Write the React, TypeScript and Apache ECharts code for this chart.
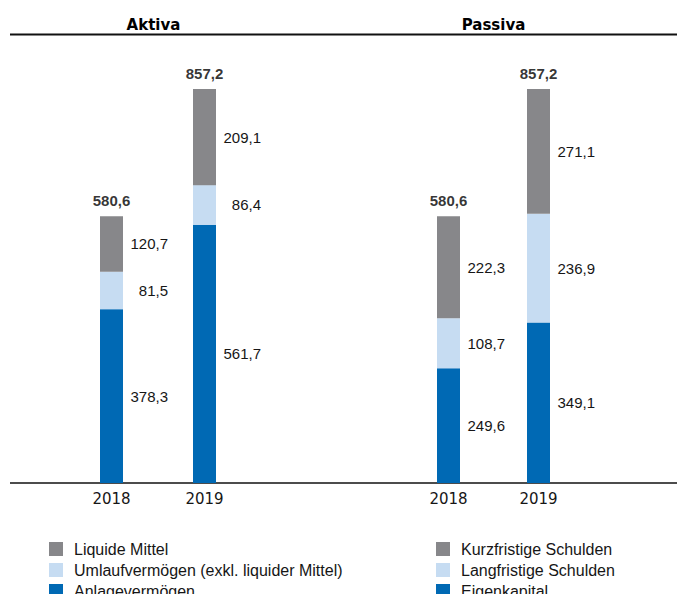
import React, { useEffect, useRef } from "react";
import * as echarts from "echarts";

const years = ["2018", "2019"];

const aktivaNames = ["Anlagevermögen", "Umlaufvermögen (exkl. liquider Mittel)", "Liquide Mittel"];
const anlagevermoegen = [378.3, 561.7];
const umlaufvermoegen = [81.5, 86.4];
const liquideMittel = [120.7, 209.1];
const aktivaTotals = [580.6, 857.2];

const passivaNames = ["Eigenkapital", "Langfristige Schulden", "Kurzfristige Schulden"];
const eigenkapital = [249.6, 349.1];
const langfristigeSchulden = [108.7, 236.9];
const kurzfristigeSchulden = [222.3, 271.1];
const passivaTotals = [580.6, 857.2];

const colors = ["#0069b4", "#c6dcf2", "#87878a"];
const fmt = (v: number) => v.toFixed(1).replace(".", ",");
const TXT = "#161616";

function App() {
  const ref = useRef<HTMLDivElement>(null);
  useEffect(() => {
    const chart = echarts.init(ref.current!, null, { renderer: "svg" });
    const segLabel = {
      show: true,
      position: ["100%", "50%"],
      offset: [45, 0],
      align: "right",
      verticalAlign: "middle",
      fontSize: 15,
      fontFamily: "Liberation Sans, Arial, sans-serif",
      color: TXT,
      formatter: (p: any) => fmt(p.value),
    };
    const totalLabel = {
      show: true,
      position: "top",
      distance: 8,
      fontSize: 15,
      fontWeight: "bold",
      fontFamily: "Liberation Sans, Arial, sans-serif",
      color: "#000",
      formatter: (p: any) => fmt(p.value[1] ?? p.value),
    };
    const mkBars = (names: string[], arrs: number[][], idx: number, stack: string) =>
      names.map((n, i) => ({
        name: n,
        type: "bar",
        stack,
        xAxisIndex: idx,
        yAxisIndex: idx,
        barWidth: 23,
        itemStyle: { color: colors[i] },
        label: segLabel,
        silent: true,
        data: arrs[i],
      }));
    const mkTotals = (totals: number[], idx: number) => ({
      type: "scatter",
      xAxisIndex: idx,
      yAxisIndex: idx,
      symbol: "circle",
      symbolSize: 1,
      itemStyle: { color: "rgba(0,0,0,0)" },
      label: totalLabel,
      silent: true,
      data: totals.map((t, i) => [years[i], t]),
    });
    const xAxisCommon = {
      type: "category",
      data: years,
      axisLine: { show: false },
      axisTick: { show: false },
      axisLabel: {
        fontSize: 15,
        fontFamily: "DejaVu Sans, sans-serif",
        color: TXT,
        margin: 8,
      },
    };
    const yAxisCommon = { type: "value", min: 0, max: 1000, show: false, splitLine: { show: false } };
    const legendCommon = {
      orient: "vertical",
      top: 541,
      height: 120,
      padding: 0,
      itemWidth: 14,
      itemHeight: 14,
      itemGap: 5,
      icon: "rect",
      selectedMode: false,
      textStyle: {
        fontSize: 16,
        lineHeight: 14,
        fontFamily: "Liberation Sans, Arial, sans-serif",
        color: TXT,
        padding: [0, 0, 0, 6],
      },
    };
    chart.setOption({
      animation: false,
      grid: [
        { left: 65, width: 186, top: 23.4, height: 459.6 },
        { left: 403.5, width: 180, top: 23.4, height: 459.6 },
      ],
      xAxis: [
        { ...xAxisCommon, gridIndex: 0 },
        { ...xAxisCommon, gridIndex: 1 },
      ],
      yAxis: [
        { ...yAxisCommon, gridIndex: 0 },
        { ...yAxisCommon, gridIndex: 1 },
      ],
      legend: [
        { ...legendCommon, left: 49, data: [...aktivaNames].reverse() },
        { ...legendCommon, left: 436, data: [...passivaNames].reverse() },
      ],
      series: [
        ...mkBars(aktivaNames, [anlagevermoegen, umlaufvermoegen, liquideMittel], 0, "a"),
        mkTotals(aktivaTotals, 0),
        ...mkBars(passivaNames, [eigenkapital, langfristigeSchulden, kurzfristigeSchulden], 1, "p"),
        mkTotals(passivaTotals, 1),
      ],
      graphic: [
        {
          type: "line",
          shape: { x1: 10, y1: 34.5, x2: 677, y2: 34.5 },
          style: { stroke: "#111", lineWidth: 2 },
          silent: true,
        },
        {
          type: "line",
          shape: { x1: 10, y1: 483, x2: 677, y2: 483 },
          style: { stroke: "#111", lineWidth: 1.5 },
          silent: true,
        },
        {
          type: "text",
          x: 153.5,
          y: 25,
          style: {
            text: "Aktiva",
            fontSize: 15,
            fontWeight: "bold",
            fontFamily: "DejaVu Sans, sans-serif",
            fill: "#000",
            align: "center",
            verticalAlign: "middle",
            textAlign: "center",
            textVerticalAlign: "middle",
          },
        },
        {
          type: "text",
          x: 493.5,
          y: 25,
          style: {
            text: "Passiva",
            fontSize: 15,
            fontWeight: "bold",
            fontFamily: "DejaVu Sans, sans-serif",
            fill: "#000",
            align: "center",
            verticalAlign: "middle",
            textAlign: "center",
            textVerticalAlign: "middle",
          },
        },
      ],
    });
    return () => chart.dispose();
  }, []);
  return (
    <div
      ref={ref}
      style={{ position: "absolute", left: 0, top: 0, width: 677, height: 594, background: "#fff" }}
    />
  );
}

export default App;
